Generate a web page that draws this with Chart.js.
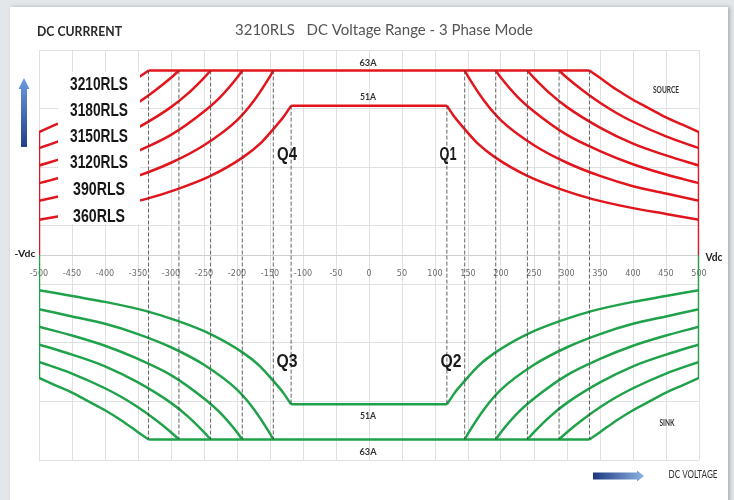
<!DOCTYPE html>
<html>
<head>
<meta charset="utf-8">
<script src="https://cdn.jsdelivr.net/npm/chart.js@4.4.1/dist/chart.umd.min.js"></script>
<style>
  html, body { margin: 0; padding: 0; background: #e4e7ea; }
  body { width: 734px; height: 500px; position: relative; overflow: hidden; }
  #panel { position: absolute; left: 10px; top: 7px; width: 718px; height: 500px; background: #fff;
           box-shadow: 2px 0 4px rgba(0,0,0,0.25); }
  #chart { position: absolute; left: 0; top: 0; }
</style>
</head>
<body>
<div id="panel"></div>
<canvas id="chart" width="734" height="500"></canvas>
<script>
// Models and their knee points (volts where the current limit ends)
const models = ['3210RLS', '3180RLS', '3150RLS', '3120RLS', '390RLS', '360RLS'];
const kneeVolts = [334, 288, 240, 192, 145, 118];
const maxAmps = [63, 63, 63, 63, 63, 51];

// Curve points (right half, source side)
const v3210 = [334, 350, 375, 400, 425, 450, 475, 500];
const a3210 = [63, 60.5, 56.5, 53, 50, 47, 44.5, 42];
const v3180 = [288, 300, 325, 350, 375, 400, 450, 500];
const a3180 = [63, 60.5, 56, 52, 48.5, 45.5, 40.5, 36.5];
const v3150 = [240, 250, 275, 300, 350, 400, 450, 500];
const a3150 = [63, 60.5, 55, 50.5, 43.5, 38, 34, 30.5];
const v3120 = [192, 200, 225, 250, 300, 350, 400, 450, 500];
const a3120 = [63, 60.5, 54, 49, 41, 35.5, 31, 27.5, 24.5];
const v390 = [145, 150, 175, 200, 250, 300, 350, 400, 450, 500];
const a390 = [63, 61, 52.5, 46, 37.5, 31.5, 27, 23.5, 21, 18.5];
const v360 = [118, 130, 145, 165, 190, 240, 290, 340, 400, 450, 500];
const a360 = [51, 47, 43, 38, 33.5, 27, 22.5, 19, 16, 14, 12];

const curveVolts = [v3210, v3180, v3150, v3120, v390, v360];
const curveAmps = [a3210, a3180, a3150, a3120, a390, a360];

const voltTicks = [-500, -450, -400, -350, -300, -250, -200, -150, -100, -50, 0,
                   50, 100, 150, 200, 250, 300, 350, 400, 450, 500];
const gridAmps = [-70, -50, -30, -10, 10, 30, 50, 70];

const RED = '#e3151c';
const GREEN = '#1fa24a';
const KNEE = 'rgba(60,60,60,0.8)';

function pts(vs, as, sx, sy) {
    const p = vs.map((v, i) => ({ x: sx * v, y: sy * as[i] }));
    return sx < 0 ? p.reverse() : p;
}

function line(data, color, extra) {
    return Object.assign({
        data: data,
        showLine: true,
        borderColor: color,
        borderWidth: 2.5,
        pointRadius: 0,
        fill: false,
        tension: 0
    }, extra || {});
}

const datasets = [];

// dark guide lines at each knee voltage
kneeVolts.forEach((v, i) => {
    [-1, 1].forEach(s => {
        datasets.push(line([{ x: s * v, y: maxAmps[i] }, { x: s * v, y: -maxAmps[i] }], KNEE,
            { borderWidth: 1, borderDash: [4, 2] }));
    });
});

// source (red, positive current) and sink (green, negative current)
[[1, RED], [-1, GREEN]].forEach(([sy, color]) => {
    // flat current limits
    datasets.push(line([{ x: -kneeVolts[0], y: sy * maxAmps[0] }, { x: kneeVolts[0], y: sy * maxAmps[0] }], color));
    datasets.push(line([{ x: -kneeVolts[5], y: sy * maxAmps[5] }, { x: kneeVolts[5], y: sy * maxAmps[5] }], color));
    // power curves in both voltage directions
    curveVolts.forEach((vs, i) => {
        [-1, 1].forEach(sx => {
            datasets.push(line(pts(vs, curveAmps[i], sx, sy), color, { cubicInterpolationMode: 'monotone' }));
        });
    });
    // closing edges at +-500 V
    const edge = a3210[a3210.length - 1];
    [-500, 500].forEach(x => {
        datasets.push(line([{ x: x, y: 0 }, { x: x, y: sy * edge }], color));
    });
});

function fitText(ctx, text, font, color, cx, cy, w) {
    ctx.save();
    ctx.font = font;
    const m = ctx.measureText(text).width;
    ctx.translate(cx, cy);
    ctx.scale(w / m, 1);
    ctx.fillStyle = color;
    ctx.textAlign = 'center';
    ctx.textBaseline = 'middle';
    ctx.fillText(text, 0, 0);
    ctx.restore();
}

const labelsPlugin = {
    id: 'labels',
    afterDatasetsDraw(chart) {
        const ctx = chart.ctx;
        // white box behind the model names
        ctx.fillStyle = '#fff';
        ctx.fillRect(58, 72, 82, 152);

        const modelY = [85, 111, 137, 163, 190, 217];
        const modelW = [58, 58, 58, 58, 52, 52];
        models.forEach((m, i) => {
            fitText(ctx, m, 'bold 18px Arial, "Liberation Sans", sans-serif', '#161616', 99, modelY[i], modelW[i]);
        });

        fitText(ctx, '3210RLS   DC Voltage Range - 3 Phase Mode', '16px Lato, "Open Sans", sans-serif', '#555', 384, 30, 298);
        fitText(ctx, 'DC CURRRENT', 'bold 13px Lato, "Open Sans", sans-serif', '#2a2a2a', 79.5, 32, 85);

        const q = 'bold 18px Arial, "Liberation Sans", sans-serif';
        fitText(ctx, 'Q4', q, '#1a1a1a', 287, 155, 20);
        fitText(ctx, 'Q1', q, '#1a1a1a', 448, 155, 17);
        fitText(ctx, 'Q3', q, '#1a1a1a', 287, 362, 21);
        fitText(ctx, 'Q2', q, '#1a1a1a', 451, 362, 21);

        const small = 'bold 9px Lato, "Open Sans", sans-serif';
        fitText(ctx, '63A', small, '#333', 368, 63, 17);
        fitText(ctx, '51A', small, '#333', 368, 97, 16);
        fitText(ctx, '51A', small, '#333', 368, 416, 16);
        fitText(ctx, '63A', small, '#333', 368, 452, 17);
        fitText(ctx, 'SOURCE', small, '#333', 666, 90, 26);
        fitText(ctx, 'SINK', small, '#333', 667, 423, 15);
        fitText(ctx, 'DC VOLTAGE', '11px Lato, "Open Sans", sans-serif', '#333', 693, 474, 49);
        fitText(ctx, '-Vdc', 'bold 10px Lato, "Open Sans", sans-serif', '#222', 25, 254, 21);
        fitText(ctx, 'Vdc', 'bold 11px Lato, "Open Sans", sans-serif', '#222', 714, 257, 17);

        // up arrow (current)
        let g = ctx.createLinearGradient(0, 78, 0, 147);
        g.addColorStop(0, '#6a9ddb');
        g.addColorStop(1, '#233f8d');
        ctx.fillStyle = g;
        ctx.beginPath();
        ctx.moveTo(24, 78);
        ctx.lineTo(29.5, 89);
        ctx.lineTo(27, 89);
        ctx.lineTo(27, 147);
        ctx.lineTo(21, 147);
        ctx.lineTo(21, 89);
        ctx.lineTo(18.5, 89);
        ctx.closePath();
        ctx.fill();

        // right arrow (voltage)
        g = ctx.createLinearGradient(593, 0, 644, 0);
        g.addColorStop(0, '#1c3783');
        g.addColorStop(1, '#8db3e2');
        ctx.fillStyle = g;
        ctx.beginPath();
        ctx.moveTo(593, 472.5);
        ctx.lineTo(637, 472.5);
        ctx.lineTo(637, 470.5);
        ctx.lineTo(644, 476);
        ctx.lineTo(637, 481.5);
        ctx.lineTo(637, 479.5);
        ctx.lineTo(593, 479.5);
        ctx.closePath();
        ctx.fill();
    }
};

new Chart(document.getElementById('chart'), {
    type: 'scatter',
    data: { datasets: datasets },
    options: {
        responsive: false,
        animation: false,
        layout: { padding: { left: 39, right: 35, top: 50, bottom: 40 } },
        plugins: { legend: { display: false }, tooltip: { enabled: false } },
        scales: {
            x: {
                type: 'linear',
                min: -500,
                max: 500,
                position: { y: 0 },
                afterBuildTicks: s => { s.ticks = voltTicks.map(v => ({ value: v })); },
                grid: { color: '#e0e0e0', drawTicks: false },
                border: { color: '#d0d0d0' },
                ticks: {
                    padding: 13,
                    color: '#6e6e6e',
                    autoSkip: false,
                    maxRotation: 0,
                    font: { family: '"Liberation Sans Narrow", "DejaVu Sans Condensed", sans-serif', size: 9 }
                }
            },
            y: {
                type: 'linear',
                min: -70,
                max: 70,
                afterBuildTicks: s => { s.ticks = gridAmps.map(v => ({ value: v })); },
                grid: { color: '#e0e0e0', drawTicks: false },
                border: { display: false },
                ticks: { display: false }
            }
        }
    },
    plugins: [labelsPlugin]
});
</script>
</body>
</html>
